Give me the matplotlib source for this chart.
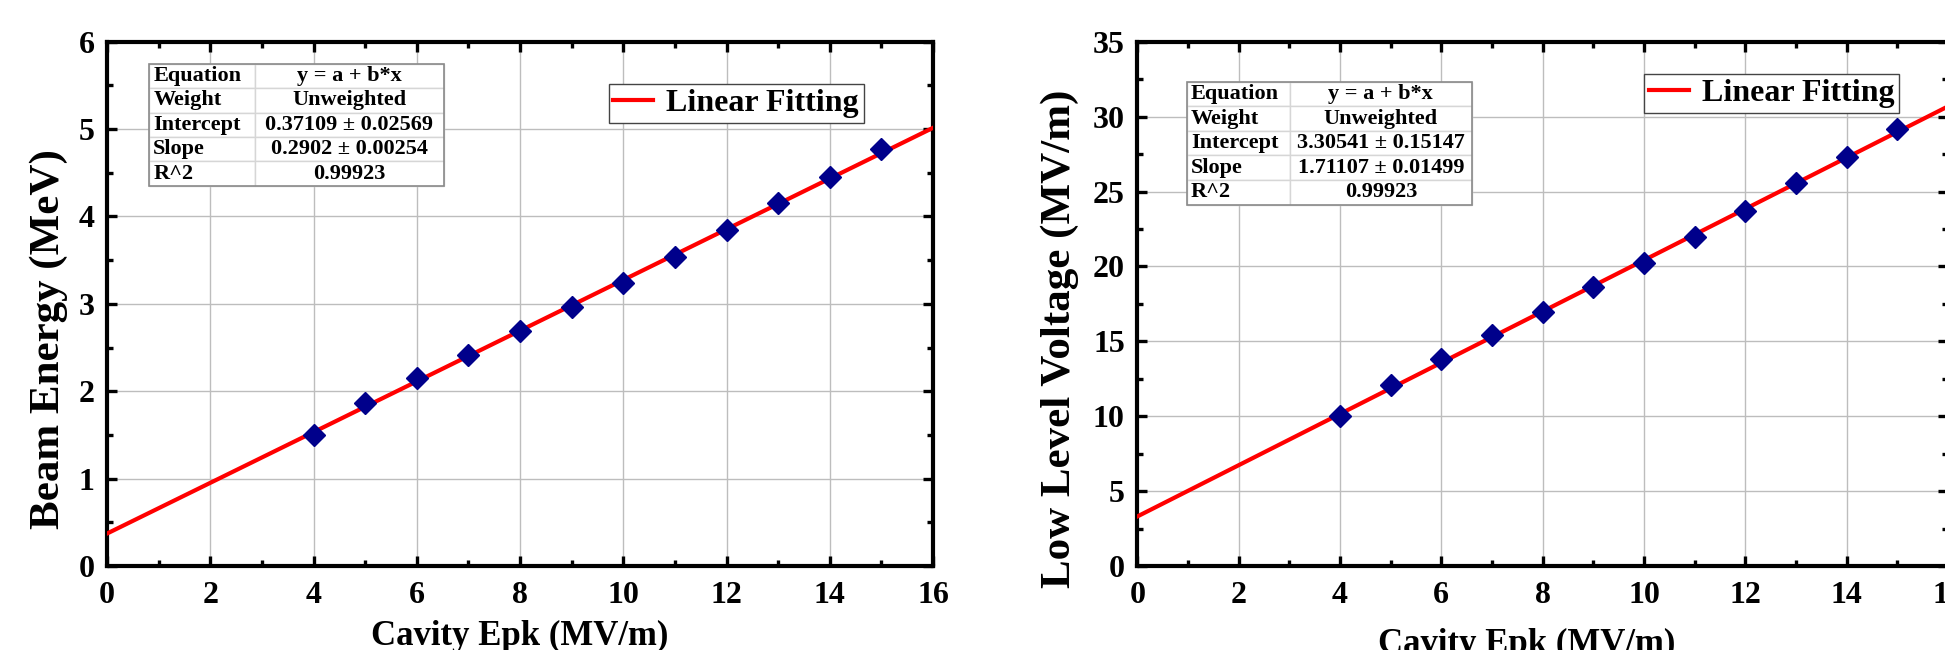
import matplotlib
matplotlib.use("Agg")
import matplotlib.pyplot as plt
from matplotlib.ticker import MultipleLocator
from matplotlib.patches import Rectangle

# ---------------- data ----------------
epk = [4, 5, 6, 7, 8, 9, 10, 11, 12, 13, 14, 15]
beam_energy = [1.50, 1.86, 2.15, 2.42, 2.69, 2.96, 3.24, 3.54, 3.84, 4.15, 4.45, 4.77]
low_level_voltage = [10.0, 12.07, 13.83, 15.43, 16.97, 18.60, 20.25, 21.98, 23.70, 25.54, 27.33, 29.20]

fit1_intercept, fit1_slope = 0.37109, 0.2902
fit2_intercept, fit2_slope = 3.30541, 1.71107

table1_rows = [["Equation", "y = a + b*x"],
               ["Weight", "Unweighted"],
               ["Intercept", "0.37109 \u00b1 0.02569"],
               ["Slope", "0.2902 \u00b1 0.00254"],
               ["R^2", "0.99923"]]
table2_rows = [["Equation", "y = a + b*x"],
               ["Weight", "Unweighted"],
               ["Intercept", "3.30541 \u00b1 0.15147"],
               ["Slope", "1.71107 \u00b1 0.01499"],
               ["R^2", "0.99923"]]

x_label = "Cavity Epk (MV/m)"
y1_label = "Beam Energy (MeV)"
y2_label = "Low Level Voltage (MV/m)"
legend_label = "Linear Fitting"

# ---------------- style ----------------
plt.rcParams['font.family'] = ['Liberation Serif', 'DejaVu Serif']
plt.rcParams['font.weight'] = 'bold'
plt.rcParams['axes.labelweight'] = 'bold'

W, H = 1945, 650
fig = plt.figure(figsize=(W / 100, H / 100), dpi=100)


def px_axes(x0, x1, ytop, ybot):
    return fig.add_axes([x0 / W, (H - ybot) / H, (x1 - x0) / W, (ybot - ytop) / H])


ax1 = px_axes(107, 933, 41.7, 566)
ax2 = px_axes(1137.3, 1948, 41.7, 566)


def style_axes(ax, ymax, ymajor, yminor, ylabel, ylabel_x, xlabel_xy):
    ax.set_xlim(0, 16)
    ax.set_ylim(0, ymax)
    ax.xaxis.set_major_locator(MultipleLocator(2))
    ax.xaxis.set_minor_locator(MultipleLocator(1))
    ax.yaxis.set_major_locator(MultipleLocator(ymajor))
    ax.yaxis.set_minor_locator(MultipleLocator(yminor))
    ax.tick_params(which='both', direction='in', top=True, right=True,
                   labelsize=23)
    ax.tick_params(axis='x', pad=11)
    ax.tick_params(axis='y', pad=9)
    ax.tick_params(which='major', length=7, width=2.4)
    ax.tick_params(which='minor', length=4, width=2.4)
    for lab in ax.get_xticklabels() + ax.get_yticklabels():
        lab.set_fontweight('bold')
    for sp in ax.spines.values():
        sp.set_linewidth(3)
    ax.grid(True, which='major', color='#bdbdbd', linewidth=1.0)
    ax.set_axisbelow(True)
    ax.set_xlabel(x_label, fontsize=25, fontweight='bold')
    ax.xaxis.set_label_coords(*xlabel_xy)
    ax.set_ylabel(ylabel, fontsize=31, fontweight='bold')
    ax.yaxis.set_label_coords(ylabel_x, 0.433)


def draw_panel(ax, yvals, a, b, rows, tbl_bbox, leg_anchor):
    xs = [0, 16]
    ax.plot(xs, [a + b * x for x in xs], color='red', linewidth=3, zorder=3,
            label=legend_label)
    ax.plot(epk, yvals, linestyle='none', marker='D', markersize=11,
            color='#00008B', zorder=4)
    tbl = ax.table(cellText=rows, colWidths=[0.36, 0.64], bbox=tbl_bbox,
                   cellLoc='center', zorder=5)
    tbl.auto_set_font_size(False)
    tbl.set_fontsize(16)
    for (r, c), cell in tbl.get_celld().items():
        cell.set_edgecolor('#d6d6d6')
        cell.set_linewidth(1.0)
        cell.set_facecolor('white')
        cell.get_text().set_fontweight('bold')
        if c == 0:
            cell._loc = 'left'
            cell.PAD = 0.04
            cell.get_text().set_horizontalalignment('left')
    ax.add_patch(Rectangle((tbl_bbox[0], tbl_bbox[1]), tbl_bbox[2], tbl_bbox[3],
                           transform=ax.transAxes, fill=False,
                           edgecolor='#8a8a8a', linewidth=1.2, zorder=6))
    leg = ax.legend(loc='upper right', bbox_to_anchor=leg_anchor, borderaxespad=0,
                    fontsize=23, frameon=True, fancybox=False, framealpha=1,
                    handlelength=1.25, handletextpad=0.4, borderpad=0.15)
    leg.get_frame().set_edgecolor('#444444')
    leg.get_frame().set_linewidth(1.0)
    for t in leg.get_texts():
        t.set_fontweight('bold')


style_axes(ax1, 6, 1, 0.5, y1_label, -0.047, (0.5, -0.103))
style_axes(ax2, 35, 5, 2.5, y2_label, -0.072, (0.48, -0.118))

draw_panel(ax1, beam_energy, fit1_intercept, fit1_slope, table1_rows,
           [0.0508, 0.725, 0.357, 0.233], (0.916, 0.920))
draw_panel(ax2, low_level_voltage, fit2_intercept, fit2_slope, table2_rows,
           [0.0613, 0.689, 0.3516, 0.235], (0.9396, 0.939))

fig.savefig("out.png", dpi=100)
